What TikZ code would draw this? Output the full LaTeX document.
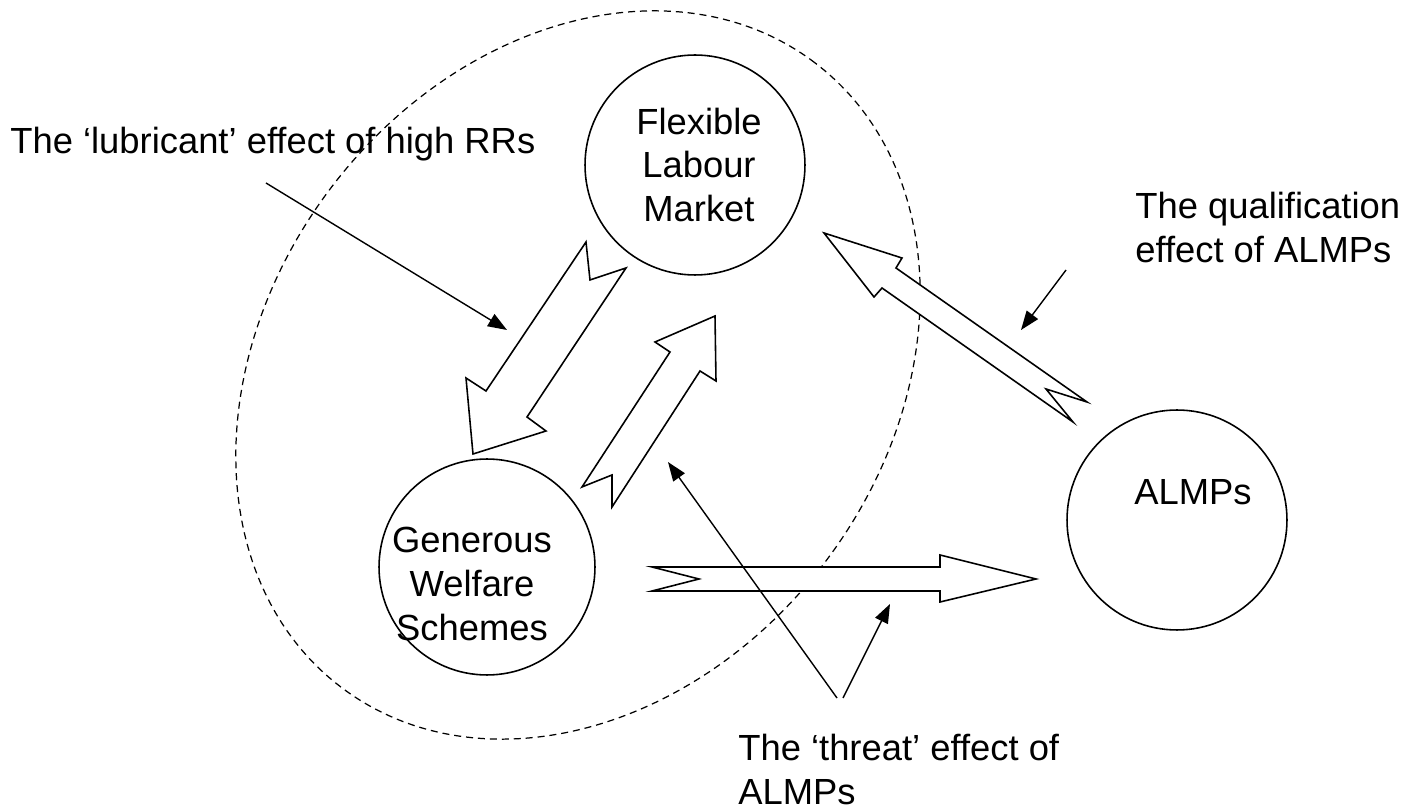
\documentclass[tikz,border=0pt]{standalone}
\usepackage{fontspec}
\setmainfont{Liberation Sans}
\usetikzlibrary{arrows.meta,shapes.geometric}
\tikzset{
  blob/.style={draw, circle, minimum size=4.4cm, inner sep=0pt, line width=0.9pt},
  zone/.style={draw, ellipse, dash pattern=on 4pt off 2.8pt, line width=0.7pt,
               minimum width=15.68cm, minimum height=12.4cm, inner sep=0pt},
  fat/.style={draw, fill=white, line width=0.9pt, line join=miter},
  pointer/.style={line width=0.8pt, -{Triangle[length=0.38cm, width=0.28cm]}},
  caption/.style={inner sep=0pt, align=left, anchor=north west}
}

\begin{document}
\begin{tikzpicture}[x=0.02cm, y=-0.02cm, font=\fontsize{20.7}{24.8}\selectfont]
\useasboundingbox (0,0) rectangle (1411,810);

% dashed boundary
\node[zone, rotate=52.8] (zone) at (578,375) {};

% block arrows
\draw[fat] (586,242) -- (590,280) -- (626,268) -- (527,417) -- (546,431)
           -- (473,454) -- (466,378) -- (486,391) -- cycle;   % flm -> gws
\draw[fat] (582,487) -- (612,475) -- (612,507) -- (700,371) -- (716,381)
           -- (715,316) -- (655,342) -- (670,352) -- cycle;   % gws -> flm
\draw[fat] (652,567) -- (940,567) -- (940,555) -- (1036,579) -- (940,602)
           -- (940,591) -- (652,591) -- (699,579) -- cycle;   % gws -> almp
\draw[fat] (824,233) -- (902,258) -- (896,268) -- (1087,402) -- (1046,389)
           -- (1073,422) -- (882,288) -- (874,297) -- cycle;  % almp -> flm

% institutions
\node[blob, label={[align=center, xshift=0.08cm]center:{Flexible\\Labour\\Market}}] (flm) at (695,165) {};
\node[blob, minimum size=4.32cm, label={[align=center, xshift=-0.3cm, yshift=-0.34cm]center:{Generous\\Welfare\\Schemes}}] (gws) at (487,567) {};
\node[blob, label={[xshift=0.32cm, yshift=0.56cm]center:ALMPs}] (almp) at (1177,520) {};

% captions
\node[caption] (lub) at (10,127) {The ‘lubricant’ effect of high RRs};
\node[caption] (qual) at (1135,192) {The qualification\\effect of ALMPs};
\node[caption] (threat) at (738,734) {The ‘threat’ effect of\\ALMPs};

\coordinate (lubfoot) at (266,183);   \coordinate (lubtip) at (507,330);
\coordinate (qualfoot) at (1066,270); \coordinate (qualtip) at (1021,330);
\coordinate (thrfootA) at (837,698);  \coordinate (thrtipA) at (668,462);
\coordinate (thrfootB) at (843,698);  \coordinate (thrtipB) at (890,604);

\foreach \u\v in {lubfoot/lubtip, qualfoot/qualtip, thrfootA/thrtipA, thrfootB/thrtipB}
{   \draw[pointer] (\u) -- (\v);
}

\end{tikzpicture}
\end{document}
